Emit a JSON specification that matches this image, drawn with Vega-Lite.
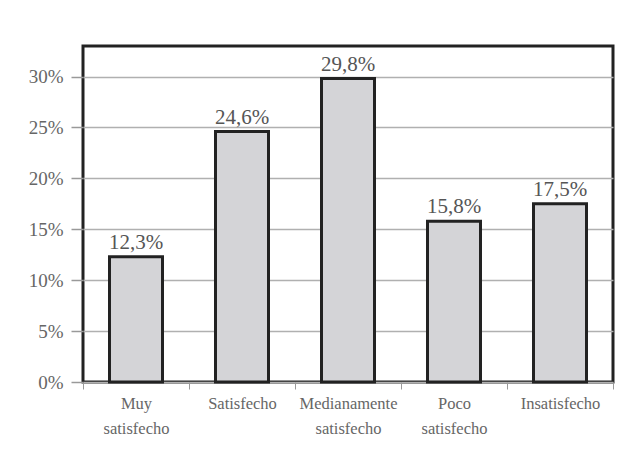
{
  "$schema": "https://vega.github.io/schema/vega-lite/v6.json",
  "autosize": {"type": "none"},
  "width": 530,
  "height": 336,
  "padding": {"left": 83, "top": 46, "right": 28, "bottom": 73},
  "background": "white",
  "config": {
    "locale": {"number": {"decimal": ",", "thousands": ".", "grouping": [3], "currency": ["", " €"]}},
    "view": {"stroke": "#222222", "strokeWidth": 3},
    "font": "Liberation Serif"
  },
  "data": {
    "values": [
      {"nivel": "Muy satisfecho", "pct": 0.123},
      {"nivel": "Satisfecho", "pct": 0.246},
      {"nivel": "Medianamente satisfecho", "pct": 0.298},
      {"nivel": "Poco satisfecho", "pct": 0.158},
      {"nivel": "Insatisfecho", "pct": 0.175}
    ]
  },
  "encoding": {
    "x": {
      "field": "nivel",
      "type": "nominal",
      "sort": null,
      "scale": {"paddingInner": 0, "paddingOuter": 0},
      "axis": {
        "title": null,
        "domain": false,
        "labelAngle": 0,
        "labelExpr": "split(datum.label, ' ')",
        "labelFont": "Liberation Serif",
        "labelFontSize": 16.5,
        "labelColor": "#666666",
        "labelLineHeight": 25,
        "labelPadding": 6,
        "labelBaseline": "top",
        "tickBand": "extent",
        "tickSize": 7,
        "tickColor": "#999999",
        "tickWidth": 1
      }
    },
    "y": {
      "field": "pct",
      "type": "quantitative",
      "scale": {"domain": [0, 0.33], "nice": false},
      "axis": {
        "title": null,
        "domain": false,
        "format": ".0%",
        "values": [0, 0.05, 0.1, 0.15, 0.2, 0.25, 0.3],
        "labelFont": "Liberation Serif",
        "labelFontSize": 19,
        "labelColor": "#666666",
        "labelPadding": 8,
        "tickSize": 12,
        "tickColor": "#999999",
        "tickWidth": 1.5,
        "grid": true,
        "gridColor": "#b0b0b0",
        "gridWidth": 1.5
      }
    }
  },
  "layer": [
    {
      "mark": {"type": "bar", "width": {"band": 0.5}, "fill": "#d4d4d7", "stroke": "#222222", "strokeWidth": 3}
    },
    {
      "mark": {"type": "text", "baseline": "alphabetic", "dy": -8, "fontSize": 21, "font": "Liberation Serif", "color": "#555555"},
      "encoding": {
        "text": {"field": "pct", "type": "quantitative", "format": ".1%"}
      }
    }
  ]
}
